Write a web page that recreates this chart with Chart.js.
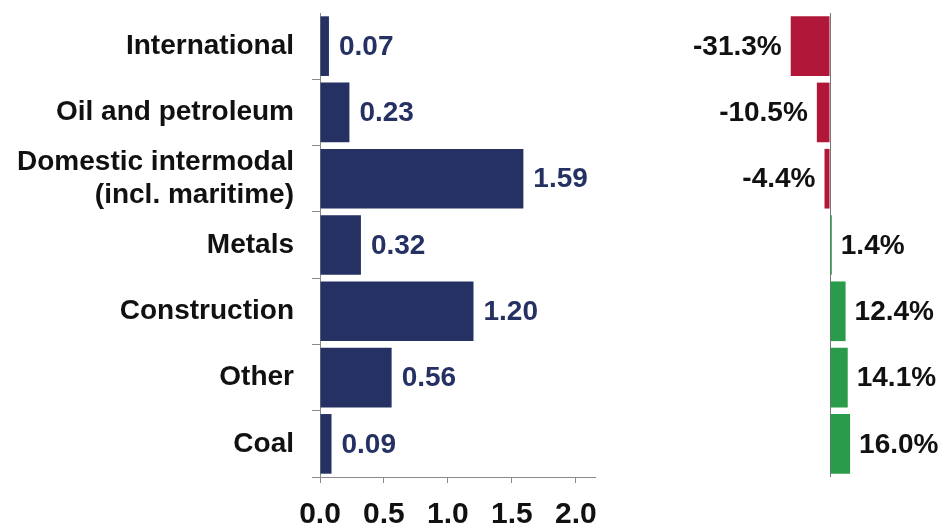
<!DOCTYPE html>
<html>
<head>
<meta charset="utf-8">
<script src="https://cdn.jsdelivr.net/npm/chart.js@4/dist/chart.umd.min.js"></script>
<style>
  html, body { margin: 0; padding: 0; background: #fff; }
  body { width: 941px; height: 527px; position: relative; overflow: hidden; }
  #volume { position: absolute; left: 0; top: 0; }
  #change { position: absolute; left: 620px; top: 0; }
</style>
</head>
<body>
<canvas id="volume" width="620" height="527"></canvas>
<canvas id="change" width="321" height="527"></canvas>
<script>
const categories = [
  'International',
  'Oil and petroleum',
  ['Domestic intermodal', '(incl. maritime)'],
  'Metals',
  'Construction',
  'Other',
  'Coal'
];
const volumes = [0.07, 0.23, 1.59, 0.32, 1.20, 0.56, 0.09];
const changes = [-31.3, -10.5, -4.4, 1.4, 12.4, 14.1, 16.0];
const volumeTicks = [0, 0.5, 1.0, 1.5, 2.0];

const FONT = '"Liberation Sans", Arial, sans-serif';
const NAVY = '#253163';
const RED = '#b01739';
const GREEN = '#2a9a4b';
const AXIS = '#8a8a8a';

function valueLabels(format, color, gap) {
  return {
    id: 'valueLabels',
    afterDatasetsDraw(chart) {
      const ctx = chart.ctx;
      const data = chart.data.datasets[0].data;
      ctx.save();
      ctx.font = 'bold 28px ' + FONT;
      ctx.textBaseline = 'middle';
      ctx.fillStyle = color;
      chart.getDatasetMeta(0).data.forEach((bar, i) => {
        const neg = data[i] < 0;
        ctx.textAlign = neg ? 'right' : 'left';
        ctx.fillText(format(data[i]), bar.x + (neg ? -gap : gap), bar.y + 1);
      });
      ctx.restore();
    }
  };
}

new Chart(document.getElementById('volume'), {
  type: 'bar',
  data: {
    labels: categories,
    datasets: [{
      data: volumes,
      backgroundColor: NAVY,
      barPercentage: 0.9,
      categoryPercentage: 1.0
    }]
  },
  plugins: [valueLabels(v => v.toFixed(2), NAVY, 10)],
  options: {
    indexAxis: 'y',
    responsive: false,
    animation: false,
    layout: { padding: { top: 13, right: 25, left: 0, bottom: 0 } },
    plugins: { legend: { display: false }, tooltip: { enabled: false } },
    scales: {
      x: {
        min: 0,
        max: 2.15,
        afterBuildTicks: scale => { scale.ticks = volumeTicks.map(v => ({ value: v })); },
        afterFit: scale => { scale.height = 50; },
        border: { color: AXIS, width: 1 },
        grid: { drawOnChartArea: false, color: AXIS, tickLength: 6 },
        ticks: {
          padding: 14,
          color: '#111',
          font: { family: FONT, size: 30, weight: 'bold' },
          callback: v => Number(v).toFixed(1)
        }
      },
      y: {
        afterFit: scale => {
          scale.width = 320;
          scale.paddingTop = 0;
          scale.paddingBottom = 0;
        },
        border: { color: AXIS, width: 1 },
        grid: {
          drawOnChartArea: false,
          color: c => c.index === 0 ? 'rgba(0,0,0,0)' : AXIS,
          tickLength: 8,
          offset: true
        },
        ticks: {
          autoSkip: false,
          padding: 18,
          color: '#111',
          font: { family: FONT, size: 28, weight: 'bold', lineHeight: 1.18 }
        }
      }
    }
  }
});

new Chart(document.getElementById('change'), {
  type: 'bar',
  data: {
    labels: categories,
    datasets: [{
      data: changes,
      backgroundColor: changes.map(v => v < 0 ? RED : GREEN),
      barPercentage: 0.9,
      categoryPercentage: 1.0
    }]
  },
  plugins: [valueLabels(v => v.toFixed(1) + '%', '#111', 9)],
  options: {
    indexAxis: 'y',
    responsive: false,
    animation: false,
    layout: { padding: { top: 13, right: 0, left: 0, bottom: 0 } },
    plugins: { legend: { display: false }, tooltip: { enabled: false } },
    scales: {
      x: {
        min: -167.3,
        max: 88.4,
        afterBuildTicks: scale => { scale.ticks = [{ value: 0 }]; },
        afterFit: scale => { scale.height = 50; },
        border: { display: false },
        grid: { drawTicks: false, color: '#777', lineWidth: 1 },
        ticks: { display: false }
      },
      y: { display: false }
    }
  }
});
</script>
</body>
</html>
